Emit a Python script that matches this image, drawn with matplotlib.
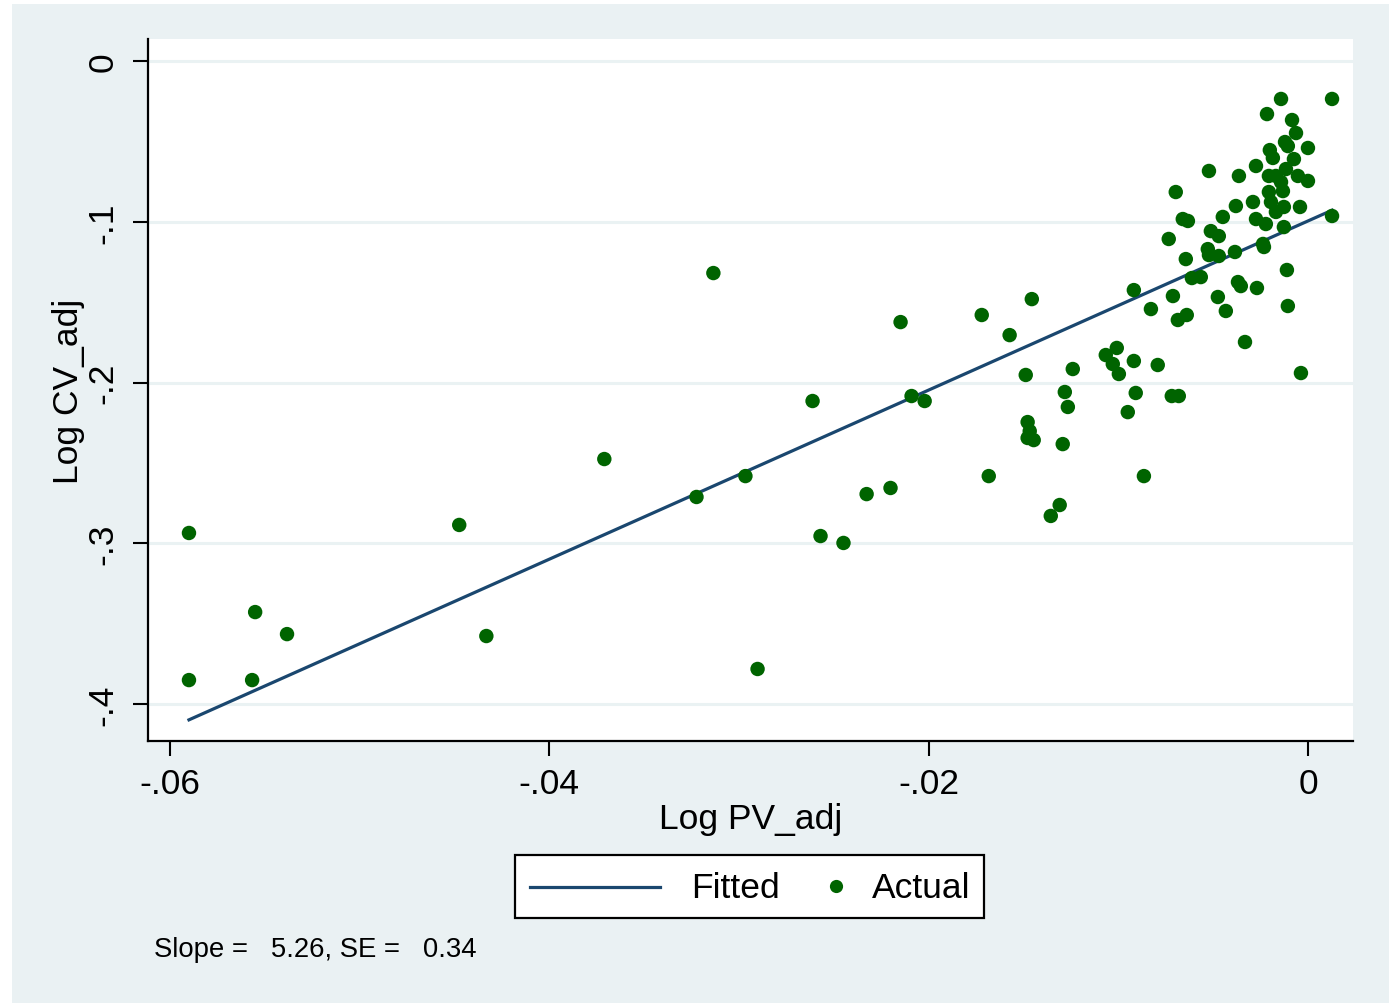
import matplotlib.pyplot as plt
import numpy as np
from matplotlib.patches import Rectangle
from matplotlib.lines import Line2D

plt.rcParams['font.family'] = ['Liberation Sans', 'DejaVu Sans']

# log PV_adj / log CV_adj
log_pv = [
    -0.05900, -0.05900, -0.05551, -0.05567, -0.05383, -0.04475, -0.04332, -0.03710,
    -0.03224, -0.03135, -0.02966, -0.02902, -0.02612, -0.02570, -0.02449, -0.02327,
    -0.02201, -0.02148, -0.02090, -0.02021, -0.01720, -0.01683, -0.01573, -0.01456,
    -0.01488, -0.01478, -0.01467, -0.01478, -0.01446, -0.01356, -0.01309, -0.01293,
    -0.01282, -0.01266, -0.01240, -0.01066, -0.01008, -0.01029, -0.00997, -0.00950,
    -0.00918, -0.00918, -0.00908, -0.00865, -0.00828, -0.00792, -0.00734, -0.00712,
    -0.00697, -0.00686, -0.00718, -0.00681, -0.00660, -0.00639, -0.00633, -0.00644,
    -0.00612, -0.00565, -0.00522, -0.00528, -0.00522, -0.00512, -0.00470, -0.00470,
    -0.00475, -0.00449, -0.00433, -0.00385, -0.00380, -0.00364, -0.00369, -0.00354,
    -0.00332, -0.00290, -0.00274, -0.00274, -0.00269, -0.00237, -0.00232, -0.00222,
    -0.00216, -0.00206, -0.00206, -0.00201, -0.00185, -0.00195, -0.00169, -0.00169,
    -0.00142, -0.00142, -0.00132, -0.00127, -0.00127, -0.00121, -0.00116, -0.00111,
    -0.00106, -0.00106, -0.00084, -0.00074, -0.00063, -0.00053, -0.00042, -0.00037,
    0.00000, 0.00000, 0.00127, 0.00127,
]
log_cv = [
    -0.2936, -0.3851, -0.3428, -0.3851, -0.3565, -0.2886, -0.3577, -0.2476,
    -0.2712, -0.1319, -0.2582, -0.3782, -0.2115, -0.2955, -0.2998, -0.2694,
    -0.2656, -0.1624, -0.2084, -0.2115, -0.1580, -0.2582, -0.1705, -0.1481,
    -0.1953, -0.2246, -0.2302, -0.2345, -0.2358, -0.2830, -0.2762, -0.2383,
    -0.2059, -0.2152, -0.1916, -0.1829, -0.1785, -0.1885, -0.1947, -0.2184,
    -0.1425, -0.1866, -0.2065, -0.2582, -0.1543, -0.1891, -0.1107, -0.1462,
    -0.0815, -0.1611, -0.2084, -0.2084, -0.0983, -0.1580, -0.0995, -0.1232,
    -0.1350, -0.1344, -0.0684, -0.1170, -0.1207, -0.1058, -0.1089, -0.1213,
    -0.1468, -0.0970, -0.1555, -0.1188, -0.0902, -0.0715, -0.1375, -0.1400,
    -0.1748, -0.0877, -0.0653, -0.0983, -0.1412, -0.1138, -0.1157, -0.1014,
    -0.0330, -0.0715, -0.0815, -0.0554, -0.0603, -0.0877, -0.0715, -0.0939,
    -0.0236, -0.0753, -0.0809, -0.0908, -0.1033, -0.0504, -0.0672, -0.1300,
    -0.0529, -0.1524, -0.0367, -0.0610, -0.0448, -0.0715, -0.0908, -0.1941,
    -0.0541, -0.0746, -0.0236, -0.0964,
]

slope = 5.26
se = 0.34
intercept = -0.0995

x_ticks = [-0.06, -0.04, -0.02, 0]
x_tick_labels = ['-.06', '-.04', '-.02', '0']
y_ticks = [0, -0.1, -0.2, -0.3, -0.4]
y_tick_labels = ['0', '-.1', '-.2', '-.3', '-.4']

W, H = 1398, 1004
bg = '#eaf1f3'
navy = '#1a476f'
green = '#006400'
fs = 25.5

fig = plt.figure(figsize=(W / 100, H / 100), dpi=100, facecolor='white')
fig.patches.append(Rectangle((12 / W, 0), (1389 - 12) / W, 1 - 5 / H,
                             transform=fig.transFigure, facecolor=bg, edgecolor='none', zorder=-10))

ax = fig.add_axes([148 / W, 1 - 742 / H, (1353 - 148) / W, (742 - 40) / H])
ax.set_facecolor('white')

xs = np.array(log_pv)
xf = np.array([xs.min(), xs.max()])
ax.plot(xf, intercept + slope * xf, color=navy, lw=2.3, zorder=2)
ax.scatter(log_pv, log_cv, s=108, color=green, edgecolors='none', zorder=3)

ax.set_xlim(-0.06116, 0.002375)
ax.set_ylim(-0.4230, 0.0137)

ax.set_xticks(x_ticks)
ax.set_xticklabels(x_tick_labels)
ax.set_yticks(y_ticks)
ax.set_yticklabels(y_tick_labels, rotation=90, va='center')

ax.grid(axis='y', color='#eaf2f3', lw=2.2)
ax.set_axisbelow(True)
for s in ['top', 'right']:
    ax.spines[s].set_visible(False)
for s in ['left', 'bottom']:
    ax.spines[s].set_linewidth(1.6)
    ax.spines[s].set_color('black')
ax.tick_params(axis='both', length=10.5, width=1.5, labelsize=fs, color='black')
ax.tick_params(axis='y', pad=10)
ax.tick_params(axis='x', pad=8)

ax.set_xlabel('Log PV_adj', fontsize=fs, labelpad=2)
ax.set_ylabel('Log CV_adj', fontsize=fs, labelpad=1)

# legend drawn by hand (Stata style)
def fx(px):
    return px / W

def fy(py):
    return 1 - py / H

fig.add_artist(Rectangle((fx(515), fy(919)), fx(984) - fx(515), fy(856) - fy(919),
                         transform=fig.transFigure, facecolor='white', edgecolor='black', lw=1.6))
fig.add_artist(Line2D([fx(530), fx(660)], [fy(888), fy(888)], transform=fig.transFigure,
                      color=navy, lw=2.3))
fig.text(fx(691), fy(889), 'Fitted', fontsize=fs, va='center', ha='left')
fig.add_artist(Line2D([fx(836)], [fy(887)], transform=fig.transFigure, marker='o',
                      markersize=9.5, color=green, markeredgewidth=0, linestyle='none'))
fig.text(fx(872), fy(889), 'Actual', fontsize=fs, va='center', ha='left')

fig.text(fx(154), fy(950), 'Slope =   %.2f, SE =   %.2f' % (slope, se), fontsize=19.8,
         va='center', ha='left')

fig.savefig('out.png', dpi=100, facecolor='white')
